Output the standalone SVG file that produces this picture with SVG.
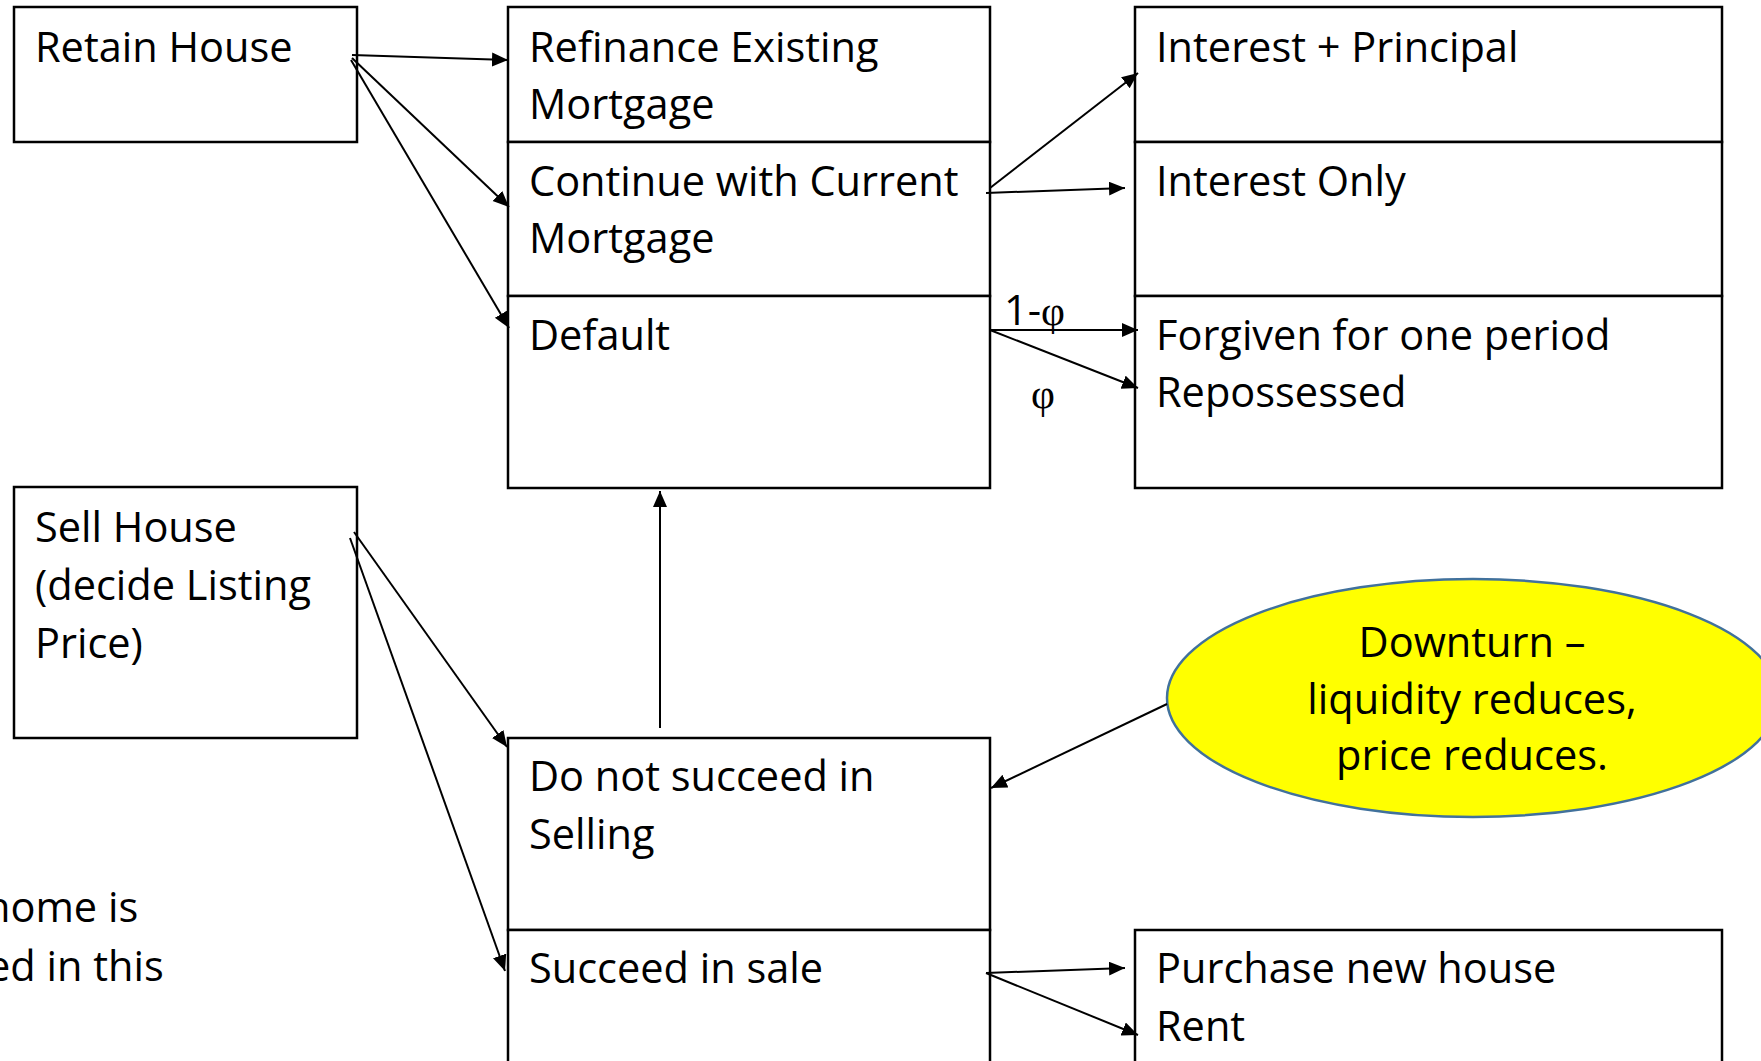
<svg xmlns="http://www.w3.org/2000/svg" width="1761" height="1061" viewBox="0 0 1761 1061">
  <style>
    .box { fill: #ffffff; stroke: #000000; stroke-width: 2.5; }
    .lbl { font-family: "Open Sans", "Liberation Sans", sans-serif; font-size: 41.5px; fill: #000000; }
    .greek { font-family: "Liberation Serif", "DejaVu Serif", serif; }
    .edge { fill: none; stroke: #000000; stroke-width: 2; marker-end: url(#arrow); }
  </style>
  <defs>
    <marker id="arrow" markerUnits="userSpaceOnUse" markerWidth="17" markerHeight="15" refX="16" refY="7" orient="auto">
      <path d="M0,0 L16,7 L0,14 Z" fill="#000000"/>
    </marker>
  </defs>

  <rect x="0" y="0" width="1761" height="1061" fill="#ffffff"/>

  <!-- left column: the two top-level choices -->
  <g id="retain-house">
    <rect class="box" x="14" y="7" width="343" height="135"/>
    <text class="lbl" x="35" y="62">Retain House</text>
  </g>
  <g id="sell-house">
    <rect class="box" x="14" y="487" width="343" height="251"/>
    <text class="lbl" x="35" y="542">Sell House</text>
    <text class="lbl" x="35" y="600">(decide Listing</text>
    <text class="lbl" x="35" y="658">Price)</text>
  </g>

  <!-- side note running off the left edge -->
  <g id="side-note">
    <text class="lbl" x="-15" y="922">home is</text>
    <text class="lbl" x="-13" y="981">ed in this</text>
  </g>

  <!-- middle column: mortgage options -->
  <g id="refinance">
    <rect class="box" x="508" y="7" width="482" height="135"/>
    <text class="lbl" x="529" y="62">Refinance Existing</text>
    <text class="lbl" x="529" y="119">Mortgage</text>
  </g>
  <g id="continue">
    <rect class="box" x="508" y="142" width="482" height="154"/>
    <text class="lbl" x="529" y="196">Continue with Current</text>
    <text class="lbl" x="529" y="253">Mortgage</text>
  </g>
  <g id="default">
    <rect class="box" x="508" y="296" width="482" height="192"/>
    <text class="lbl" x="529" y="350">Default</text>
  </g>

  <!-- right column: outcomes -->
  <g id="interest-principal">
    <rect class="box" x="1135" y="7" width="587" height="135"/>
    <text class="lbl" x="1156" y="62">Interest + Principal</text>
  </g>
  <g id="interest-only">
    <rect class="box" x="1135" y="142" width="587" height="154"/>
    <text class="lbl" x="1156" y="196">Interest Only</text>
  </g>
  <g id="forgiven-repossessed">
    <rect class="box" x="1135" y="296" width="587" height="192"/>
    <text class="lbl" x="1156" y="350">Forgiven for one period</text>
    <text class="lbl" x="1156" y="407">Repossessed</text>
  </g>

  <!-- sale outcomes -->
  <g id="not-sold">
    <rect class="box" x="508" y="738" width="482" height="192"/>
    <text class="lbl" x="529" y="791">Do not succeed in</text>
    <text class="lbl" x="529" y="849">Selling</text>
  </g>
  <g id="sold">
    <rect class="box" x="508" y="930" width="482" height="170"/>
    <text class="lbl" x="529" y="983">Succeed in sale</text>
  </g>
  <g id="purchase-rent">
    <rect class="box" x="1135" y="930" width="587" height="170"/>
    <text class="lbl" x="1156" y="983">Purchase new house</text>
    <text class="lbl" x="1156" y="1041">Rent</text>
  </g>

  <!-- market shock -->
  <g id="downturn">
    <ellipse cx="1473" cy="698" rx="306" ry="119" fill="#ffff00" stroke="#41719c" stroke-width="2.5"/>
    <text class="lbl" x="1472" y="657" text-anchor="middle">Downturn –</text>
    <text class="lbl" x="1472" y="714" text-anchor="middle">liquidity reduces,</text>
    <text class="lbl" x="1472" y="770" text-anchor="middle">price reduces.</text>
  </g>

  <!-- connectors -->
  <g id="connectors">
    <line class="edge" x1="352" y1="55" x2="508" y2="60"/>
    <line class="edge" x1="352" y1="58" x2="509" y2="207"/>
    <line class="edge" x1="351" y1="60" x2="509" y2="328"/>

    <line class="edge" x1="990" y1="188" x2="1138" y2="73"/>
    <line class="edge" x1="986" y1="193" x2="1125" y2="188"/>

    <line class="edge" x1="990" y1="330" x2="1138" y2="330"/>
    <line class="edge" x1="990" y1="330" x2="1138" y2="388"/>

    <line class="edge" x1="354" y1="532" x2="507" y2="747"/>
    <line class="edge" x1="350" y1="538" x2="505" y2="971"/>

    <line class="edge" x1="660" y1="728" x2="660" y2="491"/>

    <line class="edge" x1="1167" y1="704" x2="991" y2="788"/>

    <line class="edge" x1="986" y1="973" x2="1125" y2="968"/>
    <line class="edge" x1="986" y1="973" x2="1138" y2="1035"/>

    <text class="lbl" x="1004" y="325">1-<tspan class="greek">φ</tspan></text>
    <text class="lbl greek" x="1043" y="408" text-anchor="middle">φ</text>
  </g>
</svg>
